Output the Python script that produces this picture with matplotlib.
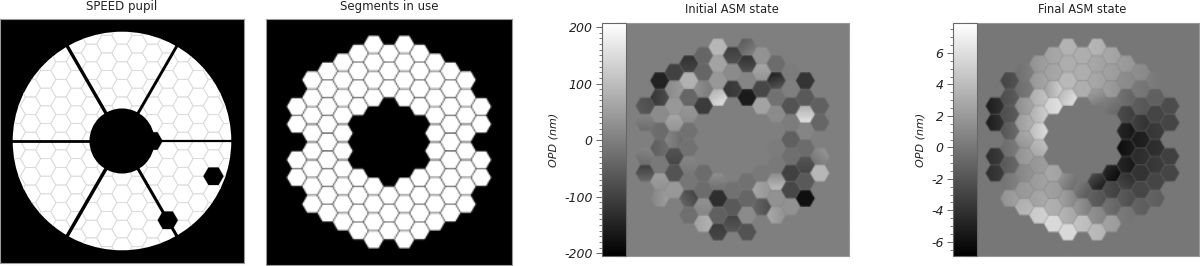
# Four panel figure: SPEED pupil, segments in use, initial and final ASM state

import numpy as np
import matplotlib
matplotlib.use('Agg')
import matplotlib.pyplot as plt
from matplotlib.collections import PolyCollection
from matplotlib.patches import Circle

titles = ['SPEED pupil', 'Segments in use', 'Initial ASM state', 'Final ASM state']

# Segment columns and the half-row index of each segment in them
column_q = [-6, -5, -4, -3, -2, -1, 0, 1, 2, 3, 4, 5, 6]
column_rows = [
    [-4, -2, 2, 4],
    [-7, -5, -3, -1, 1, 3, 5, 7],
    [-8, -6, -4, -2, 0, 2, 4, 6, 8],
    [-9, -7, -5, -3, -1, 1, 3, 5, 7, 9],
    [-10, -8, -6, -4, 4, 6, 8, 10],
    [-11, -9, -7, -5, 5, 7, 9, 11],
    [-10, -8, -6, 6, 8, 10],
    [-11, -9, -7, -5, 5, 7, 9, 11],
    [-10, -8, -6, -4, 4, 6, 8, 10],
    [-9, -7, -5, -3, -1, 1, 3, 5, 7, 9],
    [-8, -6, -4, -2, 0, 2, 4, 6, 8],
    [-7, -5, -3, -1, 1, 3, 5, 7],
    [-4, -2, 2, 4],
]

# Dead segments and the one behind the central obstruction
dead_q = [3, 6, 2]
dead_r = [9, 4, 0]

# Initial ASM state in nm: piston, left-right and top-bottom change over a segment
init_piston = [
    -70, -10, -10, -70,
    -150, -100, 20, -30, -40, -10, 40, 30,
    -100, 30, 40, 50, -10, -80, -70, 40, 0,
    -110, 80, -40, 30, -20, -20, 0, -15, -70, -25,
    -40, -40, 10, -110, -30, -30, 20, 70,
    90, 60, 40, 120, 0, -130, -50, -100,
    -90, 20, -110, -20, -60, -80,
    -30, -100, 10, -160, -20, -40, 20, -70,
    30, 50, -90, 60, -10, 50, -60, 0,
    -30, -110, -20, 20, 0, -5, -10, 60, 30, 50,
    -5, 0, -70, -5, -50, -25, -100, -90, 30,
    -120, -60, 120, 10, -30, -80, -60, -180,
    -50, -40, 10, 90,
]
init_gx = [
    -20, 0, 10, 0,
    0, 40, 0, -10, 30, 0, 0, 50,
    0, 30, 0, 0, -50, 0, 0, 0, 0,
    0, 0, 0, 0, 0, 0, 0, 0, -50, 0,
    0, 0, -40, 0, 0, 0, 0, 30,
    0, 0, 0, 40, 0, 0, 0, 0,
    0, 0, 20, 0, 0, 0,
    40, 0, 0, 0, 0, 0, 0, 0,
    0, 0, 0, 0, 0, -30, -40, 0,
    0, 30, 0, 0, 0, 0, 0, 0, 0, -40,
    0, 0, 0, 0, 0, 0, 0, 0, 0,
    0, 0, 0, 0, 0, 0, 0, 0,
    0, 0, 40, 0,
]
init_gy = [
    10, -40, -40, 70,
    0, 0, 0, 0, 0, 0, -20, 0,
    0, 0, 0, -30, 0, -20, 0, 0, 0,
    30, 0, 0, -20, 0, 0, -20, 0, 30, 0,
    0, 0, 0, 0, 0, 0, -20, 0,
    0, 0, 0, 60, -50, 0, 0, 20,
    30, 0, 0, 0, 0, 30,
    40, 50, 0, 0, 0, 0, 0, 0,
    0, -30, 0, 0, 0, 0, 0, 0,
    0, 80, 0, 0, 0, 0, 0, 80, 0, 0,
    0, 0, 0, 0, 0, 0, 0, 0, 0,
    0, 0, 80, 0, 0, -30, 0, 0,
    0, 0, -30, 0,
]

# Final ASM state in nm
final_piston = [
    -4.6, -4.6, -3.8, -3.8,
    -2.5, -2, -2, -1.3, -0.2, -1.3, 0.2, 2,
    0, -0.2, 2, 2.7, 2.3, 2, 1.2, 2, 3.5,
    2, 2.3, 3.8, 4.2, 5, 3.5, 2, 2.3, 2.7, 5,
    2.7, 2.7, 3.8, 5.7, 2.7, 2.3, 3.2, 5.7,
    3.5, 3.2, 3.8, 5, 0.5, 1.7, 3.2, 5.7,
    3.2, 3.2, 3.2, -0.7, 1.2, 4.2,
    3.5, 2.7, 2.7, 1.2, -3.9, -1.7, 1.2, 3.8,
    2.7, 2.3, 2, -0.2, -5.4, -2.8, -0.7, 2.3,
    2, 1.2, -0.7, -2.9, -5.1, -5.7, -5.1, -3.5, -2, 0,
    1.2, 0, -1.7, -3.6, -5.1, -4.2, -3.9, -2.8, -1.3,
    0.2, -1.3, -2.9, -3.6, -4.2, -3.6, -2.9, -1.3,
    -2.5, -2.9, -3.2, -2.9,
]
final_gx = [
    1.5, 1.5, 1, 1,
    1, 1, 1, 1.5, 1, 1, 1, 1,
    1, 1, 1.5, 1.5, 1, 1, 1, 0.5, 0.5,
    1, 1, 1.5, 2, 2, 1, 0.5, 0.5, 0.5, 0.5,
    0.5, 0.5, 3, 1, -0.5, -0.5, -0.5, 0,
    0, 0, 0, 2, -2, -2, -1, 0,
    0, 0, 0, -2, -2, -0.5,
    -0.5, -0.5, -0.5, -1, -2, -1, -1, -0.5,
    -0.5, -0.5, -1, -1, -1.5, -1, -1, -0.5,
    -0.5, -0.5, -1, -1, -1, 1, -1, -1, -1, -0.5,
    -0.5, -0.5, -0.5, -1, 0.5, 0.5, 0, 0, -0.5,
    -0.5, 0, 0, 0.5, 0.5, 0.5, 0, -0.5,
    0, 0, 0, 0,
]
final_gy = [
    0, 0, 0, 0,
    0, 0, 0, 0, 0, 0, 0, 0,
    0, 0, 0, 0, -1, 0, 0, 0, 0.5,
    0, 0, 0, 0, 0, -1, 0, 0, 0, 0,
    0, 0, 0, 0, 0, 0, 0, 0,
    0, 0, 0, 1, -1, 0, 0, 0,
    0, 0, 0, -1, 0, 0,
    0, 0, 0, -2, -2, 0, 0, 0,
    0, 0, 0, -1, -1, 0, 0, 0,
    0, 0, 0, 0, 0, 0, 0, 1, 0, 0,
    0, 0, 0, 0, 0, 0, 0, 0, 0,
    0, 0, 0, 0, 0, 0, 0, 0,
    0, 0, 0, 0,
]

# Colour ranges and ticks of the two ASM panels
init_range = [-205, 207]
final_range = [-6.9, 7.9]
init_ticks = [-200, -100, 0, 100, 200]
final_ticks = [-6, -4, -2, 0, 2, 4, 6]

seg_q = [q for q, rows in zip(column_q, column_rows) for r in rows]
seg_r = [r for rows in column_rows for r in rows]

W, H = 1200, 266
SQ3 = np.sqrt(3)
LIM = 12.0


def add_axes_px(left, top, right, bottom, **kw):
    return fig.add_axes([left / W, 1 - bottom / H, (right - left) / W, (bottom - top) / H], **kw)


def hex_xy(q, r):
    return 1.5 * q, SQ3 / 2 * r


def hex_corners(x, y, size=1.0):
    ang = np.radians(np.arange(0, 360, 60))
    return np.column_stack([x + size * np.cos(ang), y + size * np.sin(ang)])


def seg_image(piston, gx, gy, fill, n=180, over=6, size=0.975):
    # draw on a fine grid, then average it down so the gaps come out soft
    m = n * over
    xs = (np.arange(m) + 0.5) / m * 2 * LIM - LIM
    X, Y = np.meshgrid(xs, xs)
    img = np.full(X.shape, fill, dtype=float)
    for q, r, p, a, b in zip(seg_q, seg_r, piston, gx, gy):
        x0, y0 = hex_xy(q, r)
        dx, dy = X - x0, Y - y0
        mask = (np.abs(dy) <= SQ3 / 2 * size) & (SQ3 * np.abs(dx) + np.abs(dy) <= SQ3 * size)
        img[mask] = (p + a * dx / 2 + b * dy / SQ3)[mask]
    return img.reshape(n, over, n, over).mean(axis=(1, 3))


def clean(ax):
    ax.set_xticks([])
    ax.set_yticks([])
    for s in ax.spines.values():
        s.set_color('#999999')
        s.set_linewidth(0.8)


fig = plt.figure(figsize=(W / 100, H / 100), dpi=100)

# SPEED pupil
ax = add_axes_px(0, 19, 244, 263)
ax.set_facecolor('black')
ax.set_xlim(-LIM, LIM)
ax.set_ylim(LIM, -LIM)
clean(ax)
ax.set_title(titles[0], fontsize=8.5, pad=6.8, color='#222222')
pupil = Circle((0, 0), 10.75, fc='white', ec='none', zorder=1)
ax.add_patch(pupil)
cells = []
for q in range(-8, 9):
    for r in range(-14, 15):
        if (q + r) % 2 == 0:
            cells.append(hex_corners(*hex_xy(q, r)))
grid = PolyCollection(cells, facecolors='none', edgecolors='#dcdcdc', linewidths=0.6, zorder=2)
ax.add_collection(grid)
grid.set_clip_path(pupil)
spider_widths = [1.6, 2.2, 2.5, 2.0, 2.4, 2.1]
for ang, lw in zip(range(0, 360, 60), spider_widths):
    t = np.radians(ang)
    ax.plot([0, 10.9 * np.cos(t)], [0, 10.9 * np.sin(t)], color='black', lw=lw,
            solid_capstyle='butt', zorder=3)
ax.add_patch(Circle((0, 0), 3.2, fc='black', ec='none', zorder=4))
for q, r in zip(dead_q, dead_r):
    ax.add_patch(plt.Polygon(hex_corners(*hex_xy(q, r)), fc='black', ec='none', zorder=4))

# Segments in use
ax = add_axes_px(265.5, 19, 512, 265)
ones = [1] * len(seg_q)
zeros = [0] * len(seg_q)
ax.imshow(seg_image(ones, zeros, zeros, 0, size=0.96), cmap='gray', vmin=0, vmax=1,
          extent=[-LIM, LIM, LIM, -LIM], interpolation='bilinear')
clean(ax)
ax.set_title(titles[1], fontsize=8.5, pad=6.8, color='#222222')


def asm_panel(left, right, bar_left, bar_right, piston, gx, gy, vrange, ticks, minor, title):
    ax = add_axes_px(left, 23, right, 256)
    im = ax.imshow(seg_image(piston, gx, gy, 0), cmap='gray', vmin=vrange[0], vmax=vrange[1],
                   extent=[-LIM, LIM, LIM, -LIM], interpolation='bilinear')
    clean(ax)
    ax.set_title(title, fontsize=8.3, pad=7, color='#222222')
    cax = add_axes_px(bar_left, 23, bar_right, 256)
    cb = fig.colorbar(im, cax=cax)
    cax.yaxis.set_ticks_position('left')
    cax.yaxis.set_label_position('left')
    cb.set_ticks(ticks)
    cb.set_ticklabels([str(t) for t in ticks])
    cax.set_yticks(minor, minor=True)
    cax.tick_params(which='major', length=4.3, width=0.7, color='#666666', labelsize=9, pad=2.5,
                    labelcolor='#222222')
    cax.tick_params(which='minor', length=2.2, width=0.6, color='#666666')
    for lab in cax.get_yticklabels():
        lab.set_fontstyle('italic')
    cb.set_label('OPD (nm)', fontsize=8, fontstyle='italic', labelpad=4, color='#222222')
    cb.outline.set_edgecolor('#666666')
    cb.outline.set_linewidth(0.8)
    return ax


asm_panel(615.5, 848.5, 602, 626, init_piston, init_gx, init_gy, init_range, init_ticks,
          np.arange(-200, 201, 10), titles[2])
asm_panel(966, 1199, 953, 977, final_piston, final_gx, final_gy, final_range, final_ticks,
          np.arange(-6.5, 7.6, 0.5), titles[3])

fig.savefig('out.png', dpi=100)
